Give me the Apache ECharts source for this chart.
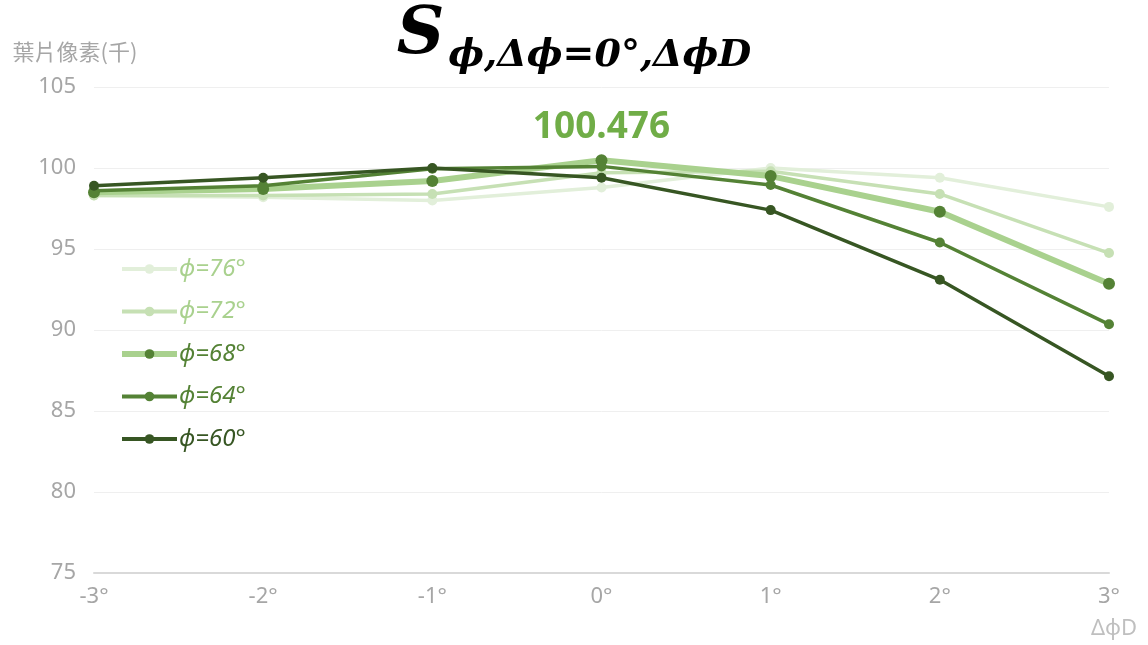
<!DOCTYPE html>
<html>
<head>
<meta charset="utf-8">
<script src="https://cdn.jsdelivr.net/npm/echarts@6/dist/echarts.min.js"></script>
<style>html,body{margin:0;padding:0;background:#fff}#c{width:1148px;height:645px}</style>
</head>
<body>
<div id="c"></div>
<script>
const categories = ['-3°', '-2°', '-1°', '0°', '1°', '2°', '3°'];
const seriesNames = ['ϕ=76°', 'ϕ=72°', 'ϕ=68°', 'ϕ=64°', 'ϕ=60°'];
const phi76 = [98.3, 98.2, 98.0, 98.8, 100.0, 99.4, 97.6];
const phi72 = [98.3, 98.3, 98.4, 99.7, 99.8, 98.4, 94.75];
const phi68 = [98.5, 98.7, 99.2, 100.476, 99.5, 97.3, 92.85];
const phi64 = [98.6, 98.9, 99.95, 100.1, 98.95, 95.4, 90.35];
const phi60 = [98.9, 99.4, 100.0, 99.4, 97.4, 93.1, 87.15];
const peakLabel = '100.476';

const lineColors = ['#e2efda', '#c6e0b4', '#a9d18e', '#548235', '#375623'];
const markerColors = ['#e2efda', '#c6e0b4', '#548235', '#548235', '#375623'];
const textColors = ['#a9d18e', '#a9d18e', '#548235', '#548235', '#375623'];
const widths = [3.5, 3.5, 6, 3.5, 3.5];
const values = [phi76, phi72, phi68, phi64, phi60];

const chart = echarts.init(document.getElementById('c'));
const series = seriesNames.map((n, i) => ({
  name: n,
  type: 'line',
  data: values[i].map((v, j) => {
    if (i === 2 && j === 3) {
      return {
        value: v,
        label: {
          show: true, position: 'top', distance: 8, formatter: peakLabel,
          fontSize: 37, fontWeight: 'bold', color: '#70ad47', fontFamily: 'Noto Sans'
        }
      };
    }
    return v;
  }),
  symbol: 'circle',
  symbolSize: i === 2 ? 12 : 10,
  lineStyle: { color: lineColors[i], width: widths[i] },
  itemStyle: { color: markerColors[i] },
  emphasis: { disabled: true },
  z: 2 + i
}));

chart.setOption({
  animation: false,
  title: {
    text: '{s|S}{b|ϕ,Δϕ=0°,ΔϕD}',
    left: 'center',
    top: 0,
    textStyle: {
      rich: {
        s: { fontSize: 66, fontWeight: 'bold', fontStyle: 'italic', fontFamily: 'DejaVu Serif', color: '#000', lineHeight: 80, verticalAlign: 'top', padding: [-2, 4, 0, 0] },
        b: { fontSize: 38, fontWeight: 'bold', fontStyle: 'italic', fontFamily: 'DejaVu Serif', color: '#000', lineHeight: 80, verticalAlign: 'bottom', padding: [0, 0, 10, 0] }
      }
    }
  },
  legend: {
    orient: 'vertical',
    left: 114,
    top: 252,
    itemWidth: 55,
    itemHeight: 12,
    itemGap: 18.5,
    data: seriesNames.map((n, i) => ({
      name: n,
      lineStyle: { width: i === 2 ? 6 : 4 },
      textStyle: { color: textColors[i], fontSize: 24, fontStyle: 'italic', fontFamily: 'Noto Sans', padding: [6, 0, 0, -3] }
    }))
  },
  grid: { left: 94, right: 39, top: 87, bottom: 72, containLabel: false },
  xAxis: {
    type: 'category',
    data: categories,
    boundaryGap: false,
    name: 'ΔϕD',
    nameLocation: 'end',
    nameGap: 5,
    nameTextStyle: { color: '#bfbfbf', fontSize: 22, fontFamily: 'Noto Sans', align: 'center', verticalAlign: 'top', padding: [45, 0, 0, 0] },
    axisLine: { lineStyle: { color: '#d9d9d9', width: 2 } },
    axisTick: { show: false },
    axisLabel: { color: '#a6a6a6', fontSize: 22, fontFamily: 'Noto Sans', margin: 13 },
    splitLine: { show: false }
  },
  yAxis: {
    type: 'value',
    min: 75, max: 105, interval: 5,
    name: '葉片像素(千)',
    nameLocation: 'end',
    nameGap: 24,
    nameTextStyle: { color: '#a6a6a6', fontSize: 22, fontFamily: 'Noto Sans CJK TC', align: 'center', padding: [0, 38, 0, 0] },
    axisLine: { show: false },
    axisTick: { show: false },
    axisLabel: { color: '#a6a6a6', fontSize: 22, fontFamily: 'Noto Sans', margin: 18 },
    splitLine: { lineStyle: { color: '#efefef', width: 1 } }
  },
  series: series
});
</script>
</body>
</html>
